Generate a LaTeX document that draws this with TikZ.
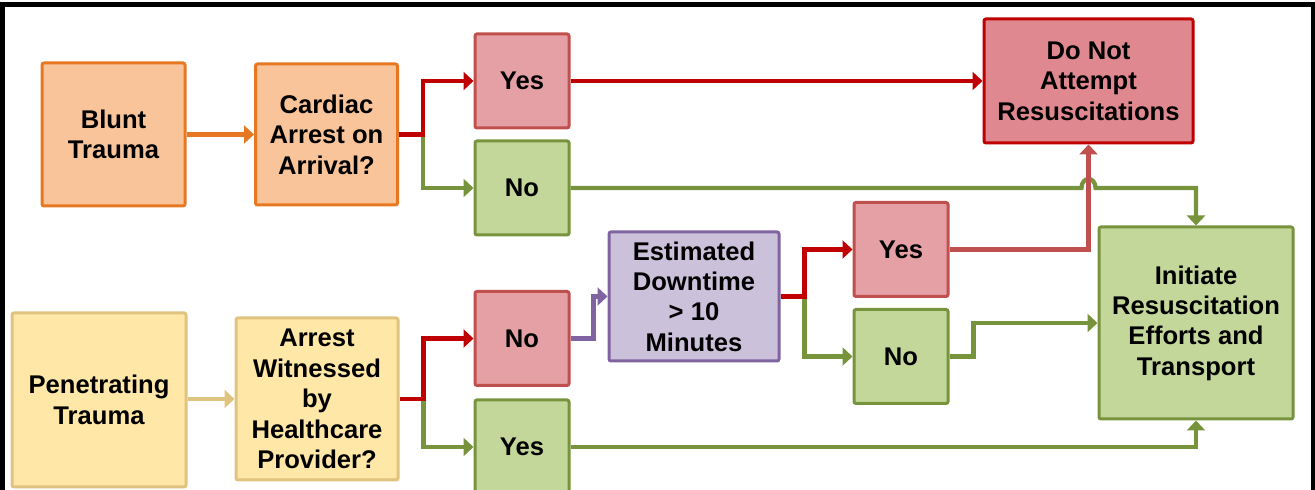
\documentclass[tikz,border=0pt]{standalone}
\usepackage{fontspec}
\setmainfont{Liberation Sans}
\usepackage{xcolor}
\usetikzlibrary{arrows.meta}

\definecolor{orangeline}{HTML}{E87722}
\definecolor{orangefill}{HTML}{F9C49A}
\definecolor{goldline}{HTML}{DFC37F}
\definecolor{goldfill}{HTML}{FFE8A7}
\definecolor{redline}{HTML}{C0504D}
\definecolor{redfill}{HTML}{E5A0A5}
\definecolor{darkred}{HTML}{C00000}
\definecolor{dnafill}{HTML}{E0888F}
\definecolor{greenline}{HTML}{77933C}
\definecolor{greenfill}{HTML}{C4D79B}
\definecolor{purpleline}{HTML}{8064A2}
\definecolor{purplefill}{HTML}{CCC1DA}

\tikzset{
  box/.style={draw, line width=1.5pt, rounded corners=1pt, inner sep=0pt,
    align=center, text=black, font=\bfseries\fontsize{12.8}{15.2}\selectfont},
  answer/.style={box, minimum width=47pt, minimum height=47pt},
  orangebox/.style={box, draw=orangeline, fill=orangefill},
  goldbox/.style={box, draw=goldline, fill=goldfill},
  redbox/.style={answer, draw=redline, fill=redfill},
  greenbox/.style={answer, draw=greenline, fill=greenfill},
  conn/.style={line width=2.1pt, -{Triangle[length=5pt,width=9pt]}},
}

\begin{document}
\begin{tikzpicture}[x=0.5pt,y=-0.5pt]
  \useasboundingbox (0,0) rectangle (1315,490);
  \draw[black,line width=2.5pt] (2,500) -- (2,4.5) -- (1313.5,4.5) -- (1313.5,500);

  \node[orangebox, minimum width=71.5pt, minimum height=71.5pt] (blunt) at (113.5,134.5) {Blunt\\Trauma};
  \node[orangebox, minimum width=71pt, minimum height=70.5pt] (card) at (326.5,134.5) {Cardiac\\Arrest on\\Arrival?};
  \node[redbox] (yes1) at (522,81) {Yes};
  \node[greenbox] (no1) at (522,188) {No};
  \node[box, draw=darkred, fill=dnafill, minimum width=104.5pt, minimum height=62pt] (dna) at (1088.5,81) {Do Not\\Attempt\\Resuscitations};

  \node[goldbox, minimum width=87pt, minimum height=87pt] (pen) at (99,400) {Penetrating\\Trauma};
  \node[goldbox, minimum width=81pt, minimum height=81pt] (arr) at (317,399) {Arrest\\Witnessed\\by\\Healthcare\\Provider?};
  \node[redbox] (no3) at (522,338.5) {No};
  \node[greenbox] (yes3) at (522,447) {Yes};
  \node[box, draw=purpleline, fill=purplefill, minimum width=85pt, minimum height=64.5pt] (est) at (694,296.5) {Estimated\\Downtime\\> 10\\Minutes};
  \node[redbox] (yes2) at (901,249.5) {Yes};
  \node[greenbox] (no2) at (901,356.5) {No};
  \node[box, draw=greenline, fill=greenfill, minimum width=97pt, minimum height=96pt] (init) at (1196,323) {Initiate\\Resuscitation\\Efforts and\\Transport};

  % top row
  \draw[conn, orangeline] (blunt) -- (card);
  \draw[conn, greenline] ([xshift=12pt]card.east) |- (no1.west);
  \draw[conn, darkred] (card.east) -- ++(24,0) |- (yes1.west);
  \draw[conn, darkred] (yes1) -- (dna);
  \coordinate (hop) at (no1.east -| dna.south);
  \draw[conn, greenline] (no1.east) -- ([xshift=-3.5pt]hop)
    .. controls +(0,-12) and +(0,-12) .. ([xshift=3.5pt]hop) -| (init.north);

  % bottom row
  \draw[conn, goldline] (pen.east |- arr) -- (arr);
  \draw[conn, greenline] ([xshift=12pt]arr.east) |- (yes3.west);
  \draw[conn, darkred] (arr.east) -- ++(24,0) |- (no3.west);
  \draw[conn, purpleline] (no3.east) -- ++(23,0) |- (est.west);
  \draw[conn, greenline] ([xshift=12pt]est.east) |- (no2.west);
  \draw[conn, darkred] (est.east) -- ++(24,0) |- (yes2.west);
  \draw[conn, redline] (yes2.east) -| (dna.south);
  \draw[conn, greenline] (no2.east) -- ++(24,0) |- (init.west);
  \draw[conn, greenline] (yes3.east) -| (init.south);
\end{tikzpicture}
\end{document}
